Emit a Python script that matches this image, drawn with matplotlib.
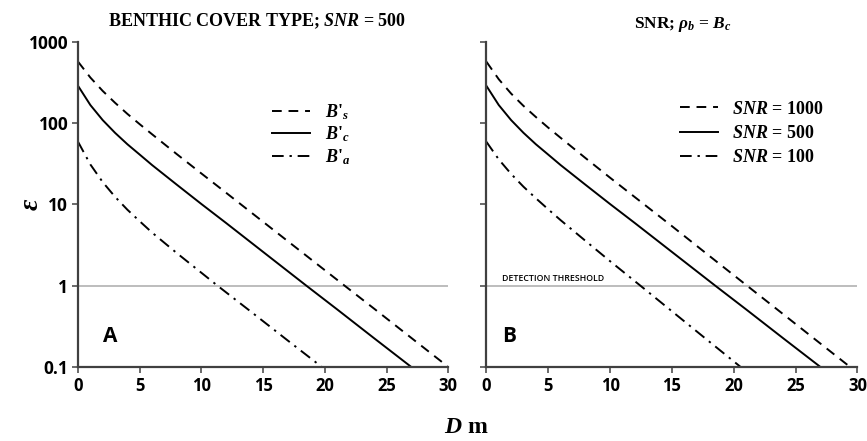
import matplotlib
matplotlib.use("Agg")
import matplotlib.pyplot as plt

plt.rcParams['mathtext.fontset'] = 'custom'
plt.rcParams['mathtext.rm'] = 'Liberation Serif:bold'
plt.rcParams['mathtext.bf'] = 'Liberation Serif:bold'
plt.rcParams['mathtext.it'] = 'Liberation Serif:italic:bold'

# depth (m) and error ratio for the three benthic cover types, SNR = 500
d_bs = [0, 1, 2, 3, 4, 5, 6, 8, 10, 12, 15, 18, 21.6, 24, 27, 30]
e_bs = [571, 364, 249, 178, 130, 97, 73, 41.6, 24, 13.9, 6.1, 2.68, 1.0, 0.52, 0.228, 0.1]
d_bc = [0, 1, 2, 3, 4, 5, 6, 8, 10, 12, 15, 18.5, 21, 24, 27]
e_bc = [288, 167, 109, 76, 55, 41, 30.5, 17.5, 10.1, 5.9, 2.6, 1.0, 0.51, 0.225, 0.1]
d_ba = [0, 1, 2, 3, 4, 5, 6, 8, 10, 11.3, 14, 17, 19.75]
e_ba = [59, 31, 18.8, 12.4, 8.6, 6.2, 4.5, 2.52, 1.44, 1.0, 0.48, 0.211, 0.1]

# three SNR levels with rho_b = B_c
d_snr1000 = [0, 1, 2, 3, 4, 5, 6, 8, 10, 12, 15, 18, 21.07, 24, 27, 29.4]
e_snr1000 = [571, 347, 231, 163, 119, 88, 66, 37.3, 21.3, 12.3, 5.4, 2.34, 1.0, 0.445, 0.194, 0.1]
d_snr500 = d_bc
e_snr500 = e_bc
d_snr100 = [0, 1, 2, 3, 4, 5, 6, 8, 10, 12.45, 15, 18, 20.55]
e_snr100 = [59, 35.8, 23.7, 16.5, 11.9, 8.7, 6.4, 3.57, 2.0, 1.0, 0.484, 0.206, 0.1]

yticks = [0.1, 1, 10, 100, 1000]
ylabels = ["0.1", "1", "10", "100", "1000"]
xticks = [0, 5, 10, 15, 20, 25, 30]

fig = plt.figure(figsize=(8.67, 4.41), dpi=100)
ax1 = fig.add_axes([0.090, 0.168, 0.427, 0.737])
ax2 = fig.add_axes([0.561, 0.168, 0.428, 0.737])

dash = (0, (5, 3.5))
dashdot = (0, (6, 3, 1.2, 3))

ax1.plot(d_bs, e_bs, color='black', lw=1.4, linestyle=dash, label=r"$B\text{'}_s$")
ax1.plot(d_bc, e_bc, color='black', lw=1.4, linestyle='-', label=r"$B\text{'}_c$")
ax1.plot(d_ba, e_ba, color='black', lw=1.4, linestyle=dashdot, label=r"$B\text{'}_a$")

ax2.plot(d_snr1000, e_snr1000, color='black', lw=1.4, linestyle=dash, label="$SNR$ = 1000")
ax2.plot(d_snr500, e_snr500, color='black', lw=1.4, linestyle='-', label="$SNR$ = 500")
ax2.plot(d_snr100, e_snr100, color='black', lw=1.4, linestyle=dashdot, label="$SNR$ = 100")

for ax in (ax1, ax2):
    ax.set_yscale('log')
    ax.set_xlim(0, 30)
    ax.set_ylim(0.1, 1000)
    ax.axhline(1, color='#b8b8b8', lw=1.3, zorder=0)
    ax.set_xticks(xticks)
    ax.set_xticklabels([str(x) for x in xticks], fontsize=12, fontweight='bold', family='Open Sans')
    ax.set_yticks(yticks)
    ax.minorticks_off()
    ax.tick_params(axis='both', direction='out', length=4, width=1.2, color='#505050', pad=3)
    for s in ('top', 'right'):
        ax.spines[s].set_visible(False)
    for s in ('left', 'bottom'):
        ax.spines[s].set_color('#404040')
        ax.spines[s].set_linewidth(1.6)
    ax.patch.set_alpha(0)

ax1.set_yticklabels(ylabels, fontsize=12.5, fontweight='bold', family='Open Sans')
ax2.set_yticklabels([])

leg_font = {'family': 'Liberation Serif', 'size': 13, 'weight': 'bold'}
ax1.legend(loc='upper left', bbox_to_anchor=(0.481, 0.865), frameon=False, handlelength=2.1,
           handletextpad=0.8, labelspacing=0.15, prop=leg_font)
ax2.legend(loc='upper left', bbox_to_anchor=(0.477, 0.869), frameon=False, handlelength=2.1,
           handletextpad=0.8, labelspacing=0.4, prop=leg_font)

ax1.text(2.0, 0.2, "A", fontsize=15, fontweight='bold', family='Open Sans')
ax2.text(1.3, 0.2, "B", fontsize=15, fontweight='bold', family='Open Sans')
ax2.text(1.3, 1.15, "DETECTION THRESHOLD", fontsize=6.3, family='Open Sans', fontweight='semibold')

fig.text(0.296, 0.952, "BENTHIC COVER TYPE; $SNR$ = 500", ha='center', va='center',
         fontsize=13, family='Liberation Serif', fontweight='bold')
fig.text(0.788, 0.945, r"SNR; $\rho_b$ = $B_c$", ha='center', va='center',
         fontsize=12.5, family='Liberation Serif', fontweight='bold')
fig.text(0.036, 0.537, "ε", rotation=90, ha='center', va='center', fontsize=20,
         family='Liberation Serif', fontweight='bold', style='italic')
fig.text(0.538, 0.031, "$D$ m", ha='center', va='center', fontsize=17,
         family='Liberation Serif', fontweight='bold')

fig.savefig("out.png", dpi=100)
